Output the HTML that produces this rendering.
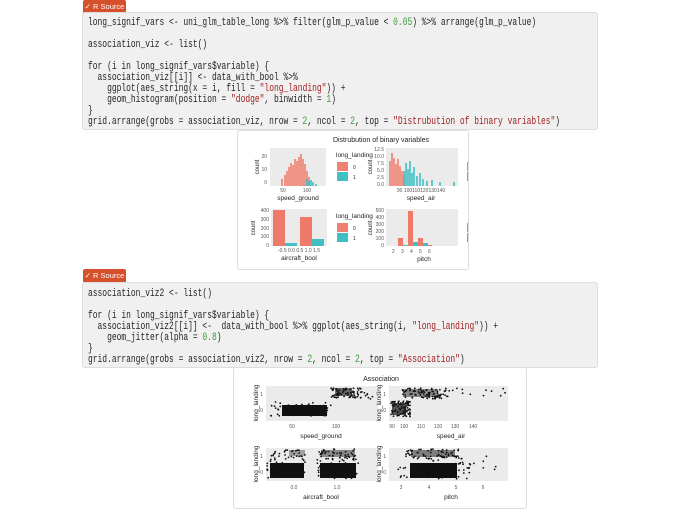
<!DOCTYPE html>
<html><head><meta charset="utf-8">
<style>
body{margin:0;width:680px;height:500px;background:#fff;overflow:hidden;position:relative;font-family:"Liberation Sans",sans-serif}
.btn{position:absolute;left:83px;width:43px;height:13px;background:#d6502b;color:#fff;font-size:7.5px;line-height:13px;border-radius:2px 2px 0 0;text-align:center}
.code{position:absolute;left:82px;width:516px;background:#f0f0f0;border:1px solid #ddd;border-radius:3px;box-sizing:border-box;overflow:hidden}
.code pre{margin:0;position:absolute;left:5px;font-family:"Liberation Mono",monospace;font-size:10.6px;line-height:11px;color:#222;transform:scaleX(0.75);transform-origin:0 0}
.n{color:#3a9a3a}.s{color:#a02020}
.fig{position:absolute;border:1px solid #ddd;border-radius:3px;background:#fff;overflow:hidden}
svg text{font-family:"Liberation Sans",sans-serif}
</style></head><body>
<div class="btn" style="top:0">&#10003; R Source</div>
<div class="code" style="top:12px;height:118px">
<pre style="top:5px">long_signif_vars &lt;- uni_glm_table_long %&gt;% filter(glm_p_value &lt; <span class="n">0.05</span>) %&gt;% arrange(glm_p_value)

association_viz &lt;- list()

for (i in long_signif_vars$variable) {
  association_viz[[i]] &lt;- data_with_bool %&gt;%
    ggplot(aes_string(x = i, fill = <span class="s">"long_landing"</span>)) +
    geom_histogram(position = <span class="s">"dodge"</span>, binwidth = <span class="n">1</span>)
}
grid.arrange(grobs = association_viz, nrow = <span class="n">2</span>, ncol = <span class="n">2</span>, top = <span class="s">"Distrubution of binary variables"</span>)</pre>
</div>

<div class="fig" style="left:237px;top:130px;width:230px;height:138px">
<svg width="230" height="138" viewBox="237 130 230 138" font-size="5">
<text x="380" y="141" text-anchor="middle" font-size="7" fill="#222">Distrubution of binary variables</text>
<rect x="269" y="147" width="56" height="38" fill="#ebebeb"/>
<g fill="#f08070" opacity="0.8">
<rect x="280" y="178" width="2" height="7"/><rect x="283" y="174" width="2" height="11"/><rect x="285" y="170" width="2" height="15"/><rect x="287" y="166" width="2" height="19"/><rect x="289" y="162" width="2" height="23"/><rect x="291" y="164" width="2" height="21"/><rect x="293" y="158" width="2" height="27"/><rect x="295" y="160" width="2" height="25"/><rect x="297" y="156" width="2" height="29"/><rect x="299" y="153" width="2" height="32"/><rect x="301" y="158" width="2" height="27"/><rect x="303" y="163" width="2" height="22"/><rect x="305" y="170" width="2" height="15"/><rect x="307" y="176" width="2" height="9"/>
</g>
<g fill="#40c0c4" opacity="0.8"><rect x="305" y="178" width="2" height="7"/><rect x="307" y="180" width="2" height="5"/><rect x="309" y="179" width="2" height="6"/><rect x="311" y="181" width="2" height="4"/><rect x="314" y="183" width="2" height="2"/></g>
<text x="266" y="157" text-anchor="end" fill="#555">20</text><text x="266" y="170" text-anchor="end" fill="#555">10</text><text x="266" y="183" text-anchor="end" fill="#555">0</text>
<text x="282" y="191" text-anchor="middle" fill="#555">50</text><text x="306" y="191" text-anchor="middle" fill="#555">100</text>
<text x="297" y="199" text-anchor="middle" font-size="6.5" fill="#222">speed_ground</text>
<text transform="translate(258,166) rotate(-90)" text-anchor="middle" font-size="6" fill="#222">count</text>
<text x="335" y="156" font-size="6.5" fill="#222">long_landing</text>
<rect x="336" y="161" width="11" height="9" fill="#f08070"/><rect x="336" y="171" width="11" height="9" fill="#40c0c4"/>
<text x="352" y="168" fill="#222">0</text><text x="352" y="178" fill="#222">1</text>
<rect x="385" y="147" width="72" height="38" fill="#ebebeb"/>
<g fill="#f08070" opacity="0.8"><rect x="388" y="160" width="2" height="25"/><rect x="390" y="152" width="2" height="33"/><rect x="392" y="157" width="2" height="28"/><rect x="394" y="163" width="2" height="22"/><rect x="396" y="158" width="2" height="27"/><rect x="398" y="165" width="2" height="20"/><rect x="400" y="170" width="2" height="15"/><rect x="402" y="175" width="2" height="10"/></g>
<g fill="#40c0c4" opacity="0.8"><rect x="402" y="170" width="2" height="15"/><rect x="404" y="162" width="2" height="23"/><rect x="406" y="168" width="2" height="17"/><rect x="408" y="160" width="2" height="25"/><rect x="410" y="172" width="2" height="13"/><rect x="412" y="166" width="2" height="19"/><rect x="415" y="175" width="2" height="10"/><rect x="418" y="172" width="2" height="13"/><rect x="421" y="178" width="2" height="7"/><rect x="425" y="180" width="2" height="5"/><rect x="430" y="179" width="2" height="6"/><rect x="438" y="181" width="2" height="4"/><rect x="452" y="181" width="2" height="4"/></g>
<text x="383" y="150" text-anchor="end" fill="#555">12.5</text><text x="383" y="157" text-anchor="end" fill="#555">10.0</text><text x="383" y="164" text-anchor="end" fill="#555">7.5</text><text x="383" y="171" text-anchor="end" fill="#555">5.0</text><text x="383" y="178" text-anchor="end" fill="#555">2.5</text><text x="383" y="185" text-anchor="end" fill="#555">0.0</text>
<text x="420" y="191" text-anchor="middle" fill="#555">90 100110120130140</text>
<text x="420" y="199" text-anchor="middle" font-size="6.5" fill="#222">speed_air</text>
<text transform="translate(371,166) rotate(-90)" text-anchor="middle" font-size="6" fill="#222">count</text>
<rect x="466" y="161" width="4" height="9" fill="#f08070"/><rect x="466" y="171" width="4" height="9" fill="#40c0c4"/>
<rect x="270" y="208" width="56" height="37" fill="#ebebeb"/>
<rect x="272" y="209" width="12" height="36" fill="#f07a6a"/><rect x="284" y="242" width="12" height="3" fill="#40c0c4"/>
<rect x="299" y="216" width="12" height="29" fill="#f07a6a"/><rect x="311" y="238" width="12" height="7" fill="#40c0c4"/>
<text x="268" y="211" text-anchor="end" fill="#555">400</text><text x="268" y="220" text-anchor="end" fill="#555">300</text><text x="268" y="229" text-anchor="end" fill="#555">200</text><text x="268" y="237" text-anchor="end" fill="#555">100</text><text x="268" y="246" text-anchor="end" fill="#555">0</text>
<text x="298" y="251" text-anchor="middle" fill="#555">-0.5 0.0  0.5  1.0  1.5</text>
<text x="298" y="259" text-anchor="middle" font-size="6.5" fill="#222">aircraft_bool</text>
<text transform="translate(254,227) rotate(-90)" text-anchor="middle" font-size="6" fill="#222">count</text>
<text x="335" y="217" font-size="6.5" fill="#222">long_landing</text>
<rect x="336" y="222" width="11" height="9" fill="#f08070"/><rect x="336" y="232" width="11" height="9" fill="#40c0c4"/>
<text x="352" y="229" fill="#222">0</text><text x="352" y="239" fill="#222">1</text>
<rect x="385" y="208" width="72" height="37" fill="#ebebeb"/>
<rect x="397" y="237" width="5" height="8" fill="#f07a6a"/><rect x="402" y="244" width="5" height="1" fill="#40c0c4"/>
<rect x="407" y="210" width="5" height="35" fill="#f07a6a"/><rect x="412" y="241" width="5" height="4" fill="#40c0c4"/>
<rect x="417" y="237" width="5" height="8" fill="#f07a6a"/><rect x="422" y="242" width="5" height="3" fill="#40c0c4"/><rect x="427" y="244" width="4" height="1" fill="#f07a6a"/>
<text x="383" y="211" text-anchor="end" fill="#555">500</text><text x="383" y="218" text-anchor="end" fill="#555">400</text><text x="383" y="225" text-anchor="end" fill="#555">300</text><text x="383" y="232" text-anchor="end" fill="#555">200</text><text x="383" y="239" text-anchor="end" fill="#555">100</text><text x="383" y="246" text-anchor="end" fill="#555">0</text>
<text x="391" y="252" fill="#555">2</text><text x="400" y="252" fill="#555">3</text><text x="409" y="252" fill="#555">4</text><text x="418" y="252" fill="#555">5</text><text x="427" y="252" fill="#555">6</text>
<text x="423" y="260" text-anchor="middle" font-size="6.5" fill="#222">pitch</text>
<text transform="translate(371,227) rotate(-90)" text-anchor="middle" font-size="6" fill="#222">count</text>
<rect x="466" y="222" width="4" height="9" fill="#f08070"/><rect x="466" y="232" width="4" height="9" fill="#40c0c4"/>
</svg></div>

<div class="btn" style="top:269px">&#10003; R Source</div>
<div class="code" style="top:282px;height:86px">
<pre style="top:6px">association_viz2 &lt;- list()

for (i in long_signif_vars$variable) {
  association_viz2[[i]] &lt;-  data_with_bool %&gt;% ggplot(aes_string(i, <span class="s">"long_landing"</span>)) +
    geom_jitter(alpha = <span class="n">0.8</span>)
}
grid.arrange(grobs = association_viz2, nrow = <span class="n">2</span>, ncol = <span class="n">2</span>, top = <span class="s">"Association"</span>)</pre>
</div>

<div class="fig" style="left:233px;top:367px;width:292px;height:140px">
<svg id="s2" width="292" height="140" viewBox="233 367 292 140" font-size="5">
<text x="380" y="380" text-anchor="middle" font-size="7" fill="#222">Association</text>
<rect x="265" y="385" width="112" height="35" fill="#ebebeb"/>
<rect x="388" y="385" width="119" height="35" fill="#ebebeb"/>
<rect x="265" y="447" width="112" height="33" fill="#ebebeb"/>
<rect x="388" y="447" width="119" height="33" fill="#ebebeb"/>
<g fill="#111">
<rect x="281" y="404" width="45" height="11"/>
<rect x="334" y="387" width="17" height="8" opacity="0.6"/>
<rect x="391" y="402" width="14" height="12" opacity="0.7"/>
<rect x="402" y="388" width="35" height="8" opacity="0.45"/>
<rect x="269" y="462" width="34" height="15"/>
<rect x="288" y="449" width="16" height="6" opacity="0.35"/>
<rect x="319" y="462" width="36" height="15"/>
<rect x="320" y="449" width="34" height="7" opacity="0.45"/>
<rect x="409" y="462" width="47" height="15"/>
<rect x="410" y="449" width="44" height="7" opacity="0.5"/>
</g>
<g fill="#555">
<text x="262" y="395" text-anchor="end">1</text><text x="262" y="411" text-anchor="end">0</text>
<text x="385" y="395" text-anchor="end">1</text><text x="385" y="411" text-anchor="end">0</text>
<text x="262" y="457" text-anchor="end">1</text><text x="262" y="473" text-anchor="end">0</text>
<text x="385" y="457" text-anchor="end">1</text><text x="385" y="473" text-anchor="end">0</text>
<text x="291" y="427" text-anchor="middle">50</text><text x="335" y="427" text-anchor="middle">100</text>
<text x="391" y="427" text-anchor="middle">90</text><text x="403" y="427" text-anchor="middle">100</text><text x="420" y="427" text-anchor="middle">110</text><text x="437" y="427" text-anchor="middle">120</text><text x="454" y="427" text-anchor="middle">130</text><text x="472" y="427" text-anchor="middle">140</text>
<text x="293" y="488" text-anchor="middle">0.0</text><text x="336" y="488" text-anchor="middle">1.0</text>
<text x="400" y="488" text-anchor="middle">3</text><text x="428" y="488" text-anchor="middle">4</text><text x="455" y="488" text-anchor="middle">5</text><text x="482" y="488" text-anchor="middle">6</text>
</g>
<g font-size="6.5" fill="#222" text-anchor="middle">
<text x="320" y="437">speed_ground</text><text x="450" y="437">speed_air</text>
<text x="320" y="498">aircraft_bool</text><text x="450" y="498">pitch</text>
<text transform="translate(257,402) rotate(-90)">long_landing</text>
<text transform="translate(380,402) rotate(-90)">long_landing</text>
<text transform="translate(257,463) rotate(-90)">long_landing</text>
<text transform="translate(380,463) rotate(-90)">long_landing</text>
</g>
<g id="dots" fill="#111"></g>
</svg></div>
<script>
(function(){var s=7;function r(){s=(s*16807)%2147483647;return s/2147483647;}
var g=document.getElementById('dots'),h='';
function pts(x0,x1,y0,y1,n){for(var i=0;i<n;i++){h+='<circle cx="'+(x0+r()*(x1-x0)).toFixed(1)+'" cy="'+(y0+r()*(y1-y0)).toFixed(1)+'" r="0.9"/>';}}
pts(270,330,401,416,60);pts(330,360,387,397,70);pts(355,372,386,398,8);
pts(390,410,400,416,80);pts(400,445,387,398,90);pts(445,505,387,397,14);
pts(268,304,449,458,30);pts(318,356,448,458,45);pts(266,305,458,478,40);pts(316,358,458,478,40);
pts(405,460,448,458,70);pts(395,470,459,478,60);pts(460,500,455,475,10);
g.innerHTML=h;})();
</script>
</body></html>
